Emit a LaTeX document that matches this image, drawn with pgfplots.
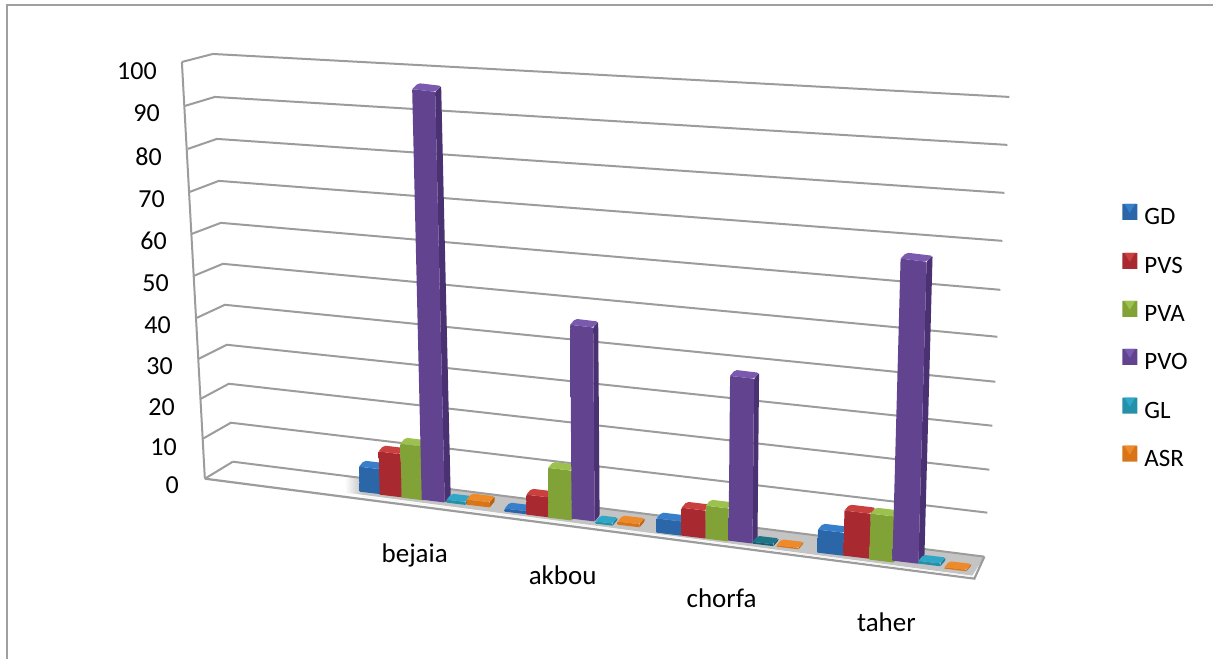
\documentclass[border=0pt]{standalone}
\usepackage{pgfplots}
\usepackage{fontspec}
\setmainfont{Carlito}
\pgfplotsset{compat=1.18}

% Series colours: face edge, face centre, side, top
\definecolor{GDe}{HTML}{2A66A8}\definecolor{GDm}{HTML}{2F75C0}\definecolor{GDs}{HTML}{22528A}\definecolor{GDt}{HTML}{387FCB}
\definecolor{PVSe}{HTML}{A82A30}\definecolor{PVSm}{HTML}{BD3238}\definecolor{PVSs}{HTML}{8A2226}\definecolor{PVSt}{HTML}{C9403F}
\definecolor{PVAe}{HTML}{80A236}\definecolor{PVAm}{HTML}{93B944}\definecolor{PVAs}{HTML}{66842A}\definecolor{PVAt}{HTML}{9CC14E}
\definecolor{PVOe}{HTML}{61438F}\definecolor{PVOm}{HTML}{7150A6}\definecolor{PVOs}{HTML}{4A3172}\definecolor{PVOt}{HTML}{7A5AAE}
\definecolor{GLe}{HTML}{2590AA}\definecolor{GLm}{HTML}{2BA0C0}\definecolor{GLs}{HTML}{1F7A92}\definecolor{GLt}{HTML}{31A7C8}
\definecolor{GLde}{HTML}{175E70}\definecolor{GLdm}{HTML}{1B6A7E}\definecolor{GLds}{HTML}{144F5E}\definecolor{GLdt}{HTML}{1F7488}
\definecolor{ASRe}{HTML}{D87518}\definecolor{ASRm}{HTML}{EC8524}\definecolor{ASRs}{HTML}{B96212}\definecolor{ASRt}{HTML}{EE8A2A}
\definecolor{gridc}{HTML}{9C9C9C}
\definecolor{floorc}{HTML}{C4C4C4}
\definecolor{framec}{HTML}{A0A0A0}

% One column in projected form:
% {front left x}{front right x}{side width}{base y}{value}{px per unit}{series}
\newcommand{\column}[7]{%
  \pgfmathsetmacro{\hh}{#5*#6}%
  \pgfmathsetmacro{\lean}{(#1-640)*0.0001*\hh}%
  \pgfmathsetmacro{\sl}{0.12*(#2-#1)}%
  \pgfmathsetmacro{\xa}{#1+\lean}%
  \pgfmathsetmacro{\xb}{#2+\lean}%
  \pgfmathsetmacro{\xc}{#2+\lean+#3}%
  \pgfmathsetmacro{\xd}{#1+\lean+#3}%
  \pgfmathsetmacro{\xe}{#2+#3}%
  \pgfmathsetmacro{\yt}{#4-\hh}%
  \pgfmathsetmacro{\ytr}{#4-\hh+\sl}%
  \pgfmathsetmacro{\ybr}{#4+\sl}%
  \pgfmathsetmacro{\ybk}{#4+\sl-6}%
  \pgfmathsetmacro{\ytk}{#4-\hh+\sl-6}%
  \pgfmathsetmacro{\ytl}{#4-\hh-6}%
  \addplot[draw=none,fill=#7s,rounded corners=1pt] coordinates
    {(#2,\ybr) (\xe,\ybk) (\xc,\ytk) (\xb,\ytr) (#2,\ybr)};
  \addplot[draw=none,left color=#7e,middle color=#7m,right color=#7e,rounded corners=0.8pt] coordinates
    {(#1,#4) (#2,\ybr) (\xb,\ytr) (\xa,\yt) (#1,#4)};
  \addplot[draw=none,fill=#7t,rounded corners=2pt] coordinates
    {(\xa,\yt) (\xb,\ytr) (\xc,\ytk) (\xd,\ytl) (\xa,\yt)};
}

% Legend key: bevelled square with a light wedge along its upper edge
\newcommand{\legkey}[3]{%
  \pgfmathsetmacro{\yb}{#1+16}%
  \pgfmathsetmacro{\ym}{#1+9}%
  \addplot[draw=none,fill=#2e] coordinates {(1123,#1) (1138,#1) (1138,\yb) (1123,\yb) (1123,#1)};
  \addplot[draw=none,fill=#2t] coordinates {(1125,#1) (1136,#1) (1130.5,\ym) (1125,#1)};
  \node[anchor=base west,font=\fontsize{25}{29}\selectfont,inner sep=0pt] at (axis cs:1145,#1+21) {#3};
}

\begin{document}
\begin{tikzpicture}
\begin{axis}[
  scale only axis, width=1214pt, height=659pt,
  xmin=0, xmax=1214, ymin=0, ymax=659, y dir=reverse,
  hide axis, clip=false,
]
% page extent
\path (axis cs:0,0) rectangle (axis cs:1214,659);

% outer chart frame
\addplot[framec,line width=1.6pt] coordinates {(7,659) (7,5) (1214,5)};

% value grid: front edge, back corner, far end
\addplot[gridc,line width=2pt] coordinates {(182,62) (213,54) (1010,97)};
\addplot[gridc,line width=2pt] coordinates {(185,106) (215,97) (1008,145)};
\addplot[gridc,line width=2pt] coordinates {(188,149) (217,139) (1005,193)};
\addplot[gridc,line width=2pt] coordinates {(190,192) (219,181) (1003,241)};
\addplot[gridc,line width=2pt] coordinates {(192,234) (221,223) (1001,290)};
\addplot[gridc,line width=2pt] coordinates {(194,276) (223,264) (998,337)};
\addplot[gridc,line width=2pt] coordinates {(197,318) (225,305) (996,382)};
\addplot[gridc,line width=2pt] coordinates {(199,359) (227,345) (993,426)};
\addplot[gridc,line width=2pt] coordinates {(201,399) (229,384) (990,470)};
\addplot[gridc,line width=2pt] coordinates {(203,439) (231,423) (988,513)};
\addplot[gridc,line width=2pt] coordinates {(205,479) (233,462)};
\addplot[gridc,line width=2pt] coordinates {(182,62) (205,479)};

% floor band under the columns
\addplot[draw=none,left color=white,right color=floorc] coordinates
  {(345,476) (362,478) (362,495) (345,493) (345,476)};
\addplot[draw=none,fill=floorc] coordinates
  {(362,478) (985,557) (973,576) (362,495) (362,478)};
\addplot[gridc,line width=2pt] coordinates {(233,462) (985,557)};
\addplot[gridc,line width=2.2pt] coordinates {(205,479) (975,579) (985,557)};
\addplot[white!92!gray,line width=1.2pt] coordinates {(362,496.5) (973,577)};

% bejaia
\column{360}{381}{5}{492}{5.8}{4.32}{GD}
\column{380}{402}{5}{495}{10.0}{4.32}{PVS}
\column{402}{424}{5}{498}{12.5}{4.32}{PVA}
\column{422}{445}{6}{500}{95.1}{4.32}{PVO}
\column{447}{466}{5}{503}{0.7}{4.32}{GL}
\column{467}{490}{5}{505}{1.2}{4.32}{ASR}
% akbou
\column{505}{527}{5}{512}{0.7}{4.45}{GD}
\column{527}{550}{5}{515}{4.5}{4.45}{PVS}
\column{549}{572}{5}{518}{11.2}{4.45}{PVA}
\column{572}{595}{5}{519}{43.6}{4.45}{PVO}
\column{596}{613}{5}{524}{0.5}{4.45}{GL}
\column{618}{640}{5}{525}{0.7}{4.45}{ASR}
% chorfa
\column{657}{682}{5}{533}{3.1}{4.58}{GD}
\column{682}{706}{5}{536}{6.1}{4.58}{PVS}
\column{706}{729}{5}{539}{7.2}{4.58}{PVA}
\column{729}{753}{5}{541}{36.0}{4.58}{PVO}
\column{753}{774}{5}{544}{0.4}{4.58}{GLd}
\column{777}{799}{5}{547}{0.3}{4.58}{ASR}
% taher
\column{818}{844}{5}{553}{4.9}{4.70}{GD}
\column{844}{870}{5}{556}{9.6}{4.70}{PVS}
\column{870}{894}{5}{560}{9.8}{4.70}{PVA}
\column{893}{919}{6}{561}{64.3}{4.70}{PVO}
\column{919}{941}{5}{564}{0.6}{4.70}{GL}
\column{945}{967}{5}{569}{0.3}{4.70}{ASR}

% legend
\legkey{204}{GD}{GD}
\legkey{253}{PVS}{PVS}
\legkey{301}{PVA}{PVA}
\legkey{349}{PVO}{PVO}
\legkey{398}{GL}{GL}
\legkey{446}{ASR}{ASR}

% value labels
\begin{scope}[every node/.style={anchor=east,inner sep=0pt,font=\fontsize{26}{30}\selectfont}]
\node at (axis cs:157,71) {100};
\node at (axis cs:160,113) {90};
\node at (axis cs:162,157) {80};
\node at (axis cs:165,199) {70};
\node at (axis cs:167,241) {60};
\node at (axis cs:169,283) {50};
\node at (axis cs:171,325) {40};
\node at (axis cs:173,366) {30};
\node at (axis cs:175,407) {20};
\node at (axis cs:177,447) {10};
\node at (axis cs:179,485) {0};
\end{scope}

% town labels
\begin{scope}[every node/.style={anchor=base,inner sep=0pt,font=\fontsize{27}{32}\selectfont}]
\node at (axis cs:415,563) {bejaia};
\node at (axis cs:563,585) {akbou};
\node at (axis cs:722,608) {chorfa};
\node at (axis cs:887,632) {taher};
\end{scope}
\end{axis}
\end{tikzpicture}
\end{document}
